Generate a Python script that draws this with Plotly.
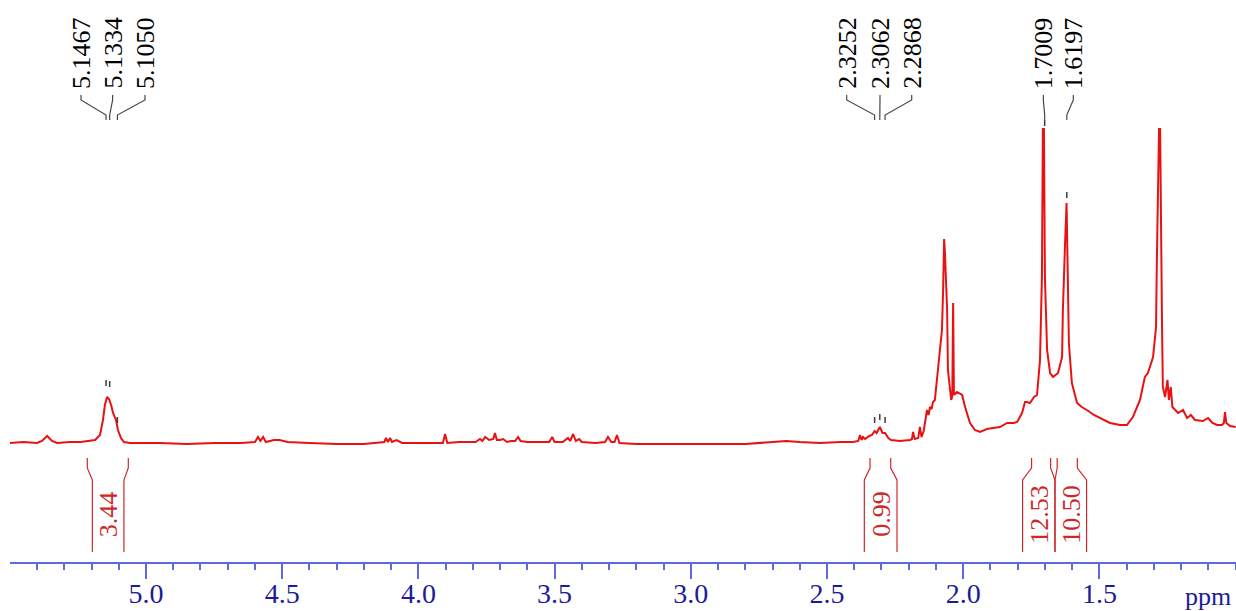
import plotly.graph_objects as go

# ---------------- data ----------------
ppm = [5.500, 5.45, 5.40, 5.382, 5.363, 5.345, 5.327, 5.28, 5.24, 5.206, 5.187, 5.169, 5.158, 5.151, 5.143,
       5.136, 5.128, 5.121, 5.110, 5.103, 5.092, 5.081, 5.059, 4.95, 4.85, 4.75, 4.65, 4.60, 4.589, 4.580,
       4.570, 4.560, 4.53, 4.51, 4.48, 4.40, 4.30, 4.20, 4.14, 4.125, 4.119, 4.112, 4.104, 4.097, 4.08,
       4.06, 3.95, 3.910, 3.902, 3.894, 3.85, 3.79, 3.774, 3.765, 3.755, 3.74, 3.725, 3.719, 3.712, 3.70,
       3.689, 3.675, 3.66, 3.645, 3.634, 3.625, 3.60, 3.52, 3.509, 3.50, 3.47, 3.451, 3.443, 3.432, 3.422,
       3.410, 3.40, 3.35, 3.315, 3.304, 3.292, 3.280, 3.271, 3.262, 3.20, 3.10, 3.00, 2.90, 2.80, 2.70,
       2.65, 2.60, 2.55, 2.526, 2.45, 2.405, 2.385, 2.379, 2.373, 2.368, 2.36, 2.345, 2.335, 2.3252, 2.318,
       2.3062, 2.296, 2.2868, 2.275, 2.265, 2.232, 2.195, 2.188, 2.184, 2.178, 2.165, 2.159, 2.153, 2.145,
       2.140, 2.133, 2.127, 2.122, 2.116, 2.111, 2.104, 2.093, 2.085, 2.078, 2.074, 2.070, 2.067, 2.063,
       2.059, 2.056, 2.048, 2.044, 2.040, 2.037, 2.034, 2.023, 2.004, 1.993, 1.975, 1.957, 1.938, 1.913,
       1.89, 1.865, 1.839, 1.815, 1.802, 1.791, 1.784, 1.773, 1.766, 1.755, 1.740, 1.729, 1.718, 1.711,
       1.7075, 1.7035, 1.700, 1.692, 1.681, 1.670, 1.659, 1.652, 1.637, 1.634, 1.626, 1.6205, 1.616, 1.612,
       1.601, 1.597, 1.590, 1.582, 1.565, 1.546, 1.52, 1.498, 1.461, 1.424, 1.399, 1.377, 1.351, 1.333,
       1.322, 1.303, 1.292, 1.289, 1.285, 1.281, 1.277, 1.274, 1.270, 1.267, 1.259, 1.250, 1.245, 1.238,
       1.232, 1.211, 1.193, 1.178, 1.164, 1.149, 1.12, 1.101, 1.085, 1.068, 1.050, 1.043, 1.039, 1.034,
       1.02, 1.000]
intensity = [0, 1, 0, 2, 7, 2, 0, 1, 1, 2, 3, 8, 23, 38, 46,
             44, 38, 30, 23, 13, 5, 1, 0, 0, -1, 0, 0, 1, 6, 2,
             6, 1, 3, 3, 1, 0, -1, -1, 0, 1, 5, 1, 5, 1, 3,
             0, 0, 0, 9, 0, 1, 1, 4, 2, 6, 3, 4, 10, 3, 3,
             4, 1, 2, 2, 6, 2, 1, 1, 6, 1, 1, 5, 2, 9, 2,
             4, 1, 0, 1, 6, 1, 1, 8, 0, -1, -1, -1, -1, -1, 1,
             2, 1, 0, 0, 1, 1, 2, 8, 3, 6, 4, 7, 8, 12, 10,
             16, 10, 10, 5, 3, 2, 3, 4, 11, 4, 5, 16, 6, 12,
             20, 33, 28, 36, 34, 41, 43, 73, 95, 113, 150, 204, 190, 160,
             133, 73, 48, 43, 47, 140, 48, 51, 48, 36, 20, 13, 11, 14,
             15, 16, 20, 20, 21, 26, 30, 41, 41, 40, 46, 48, 83, 166,
             314, 314, 166, 93, 70, 66, 68, 70, 86, 133, 200, 240, 166, 100,
             60, 56, 50, 40, 36, 33, 28, 25, 20, 18, 18, 26, 43, 66,
             70, 86, 116, 183, 260, 314, 314, 183, 116, 56, 46, 63, 43, 56,
             36, 30, 33, 25, 28, 23, 22, 25, 20, 18, 18, 20, 31, 20,
             17, 16]

# picked peaks
peak_labels = ["5.1467", "5.1334", "5.1050", "2.3252", "2.3062", "2.2868", "1.7009", "1.6197"]
peak_ppm = [5.1467, 5.1334, 5.1050, 2.3252, 2.3062, 2.2868, 1.7009, 1.6197]
label_ppm = [5.2386, 5.1226, 5.0037, 2.4277, 2.3054, 2.189, 1.7058, 1.5958]
pick_mark_base = [57, 56, 20, 20, 23, 20, 317, 245]

# integrals
integral_values = ["3.44", "0.99", "12.53", "10.50"]
integral_top_left = [5.2155, 2.342, 1.749, 1.655]
integral_bot_left = [5.197, 2.363, 1.782, 1.663]
integral_top_right = [5.065, 2.266, 1.679, 1.581]
integral_bot_right = [5.081, 2.243, 1.663, 1.547]

# axis
tick_values = [5.0, 4.5, 4.0, 3.5, 3.0, 2.5, 2.0, 1.5]
tick_text = ["5.0", "4.5", "4.0", "3.5", "3.0", "2.5", "2.0", "1.5"]

# ---------------- figure ----------------
RED = "rgb(232,18,18)"
INT_RED = "rgb(205,40,40)"
BLUE_LINE = "rgb(95,105,225)"
BLUE_TEXT = "rgb(28,28,150)"
SERIF = "Times New Roman, Liberation Serif, serif"

fig = go.Figure()

# integral brackets
ix, iy = [], []
for tl, bl, tr, br in zip(integral_top_left, integral_bot_left, integral_top_right, integral_bot_right):
    ix += [tl, tl, bl, bl, None, tr, tr, br, br, None]
    iy += [-15, -25, -37, -109, None, -15, -25, -37, -109, None]
fig.add_trace(go.Scatter(x=ix, y=iy, mode="lines", line=dict(color=INT_RED, width=1.2),
                         hoverinfo="skip", showlegend=False))

# spectrum
fig.add_trace(go.Scatter(x=ppm, y=intensity, mode="lines", line=dict(color=RED, width=2),
                         showlegend=False))

# peak label connectors
cx, cy = [], []
for lp, pp in zip(label_ppm, peak_ppm):
    cx += [lp, lp, pp, pp, None]
    cy += [348, 343, 328, 323, None]
fig.add_trace(go.Scatter(x=cx, y=cy, mode="lines", line=dict(color="rgb(70,70,70)", width=1.2),
                         hoverinfo="skip", showlegend=False))

# peak pick marks
mx, my = [], []
for pp, b in zip(peak_ppm, pick_mark_base):
    mx += [pp, pp, None]
    my += [b, b + 6, None]
fig.add_trace(go.Scatter(x=mx, y=my, mode="lines", line=dict(color="rgb(60,60,60)", width=1.5),
                         hoverinfo="skip", showlegend=False))

annotations = []
for lab, lp in zip(peak_labels, label_ppm):
    annotations.append(dict(x=lp, y=352, xref="x", yref="y", text=lab, textangle=-90,
                            showarrow=False, xanchor="center", yanchor="bottom",
                            font=dict(family=SERIF, size=26, color="black")))

for val, bl, br in zip(integral_values, integral_bot_left, integral_bot_right):
    annotations.append(dict(x=(bl + br) / 2, y=-71, xref="x", yref="y", text=val, textangle=-90,
                            showarrow=False, xanchor="center", yanchor="middle",
                            font=dict(family=SERIF, size=26, color=INT_RED)))

annotations.append(dict(x=(1208 - 10) / 1226, y=-34 / 562, xref="paper", yref="paper", text="ppm",
                        showarrow=False, xanchor="center", yanchor="middle",
                        font=dict(family=SERIF, size=26, color=BLUE_TEXT)))

fig.update_layout(
    width=1236, height=611,
    margin=dict(l=10, r=0, t=0, b=49, autoexpand=False),
    paper_bgcolor="white", plot_bgcolor="white",
    annotations=annotations,
    xaxis=dict(range=[5.4993, 0.9985], showgrid=False, zeroline=False, automargin=False,
               showline=True, linecolor=BLUE_LINE, linewidth=2,
               ticks="outside", ticklen=15, tickwidth=2, tickcolor=BLUE_LINE,
               tickvals=tick_values, ticktext=tick_text, ticklabelstandoff=-10,
               tickfont=dict(family=SERIF, size=28, color=BLUE_TEXT),
               minor=dict(dtick=0.1, tick0=0, ticks="outside", ticklen=6, tickwidth=1.5,
                          tickcolor=BLUE_LINE, showgrid=False)),
    yaxis=dict(range=[-119, 443], visible=False, showgrid=False, zeroline=False, automargin=False),
)

fig.write_html("out.html")
